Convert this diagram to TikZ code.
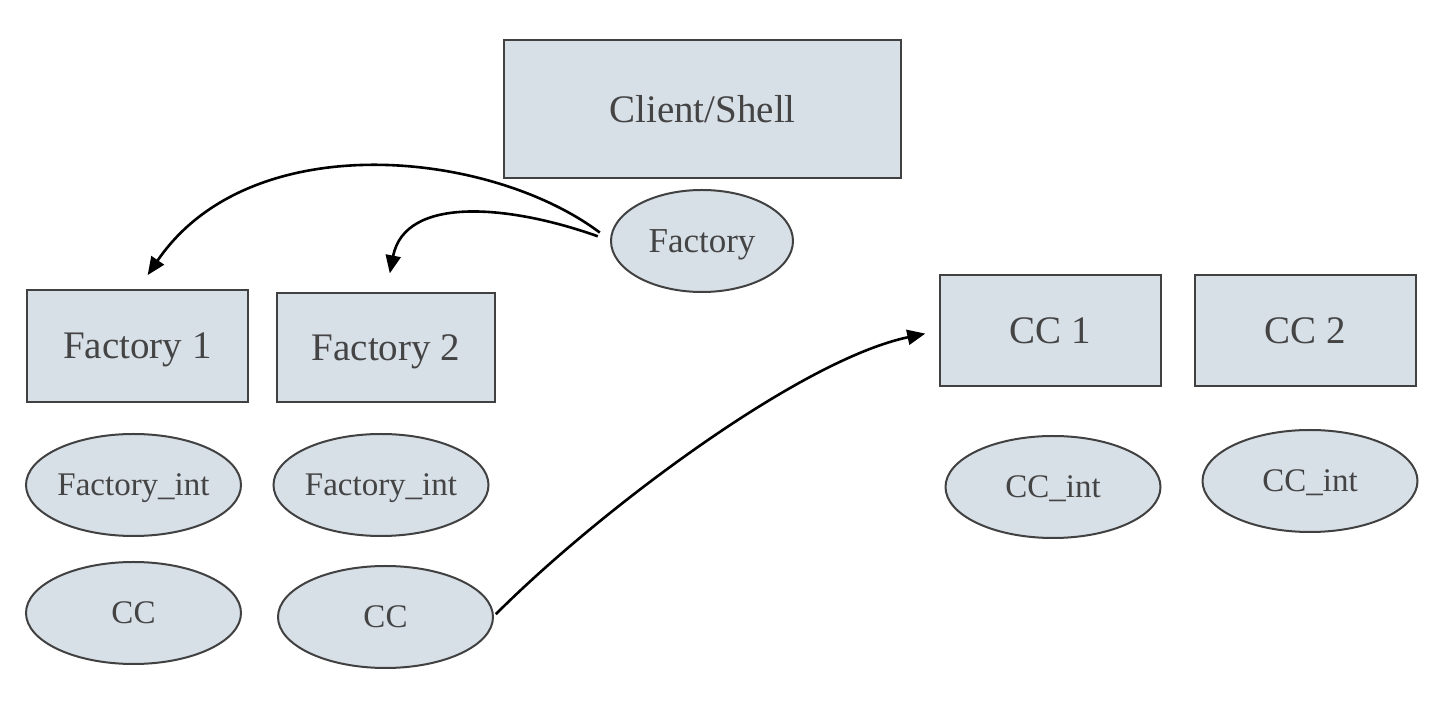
\documentclass[tikz,border=0pt]{standalone}
\usepackage{fontspec}
\setmainfont{Liberation Serif}
\usetikzlibrary{shapes.geometric,arrows.meta}
\definecolor{boxfill}{HTML}{D7DFE7}
\definecolor{boxline}{HTML}{414141}
\definecolor{txtgray}{HTML}{444444}

\begin{document}
\begin{tikzpicture}[x=0.5pt,y=0.5pt,yscale=-1,xscale=1,
  box/.style={draw=boxline,fill=boxfill,line width=1pt,inner sep=0pt,outer sep=0pt,text=txtgray,text depth=0pt,font=\fontsize{19.5}{23}\selectfont},
  oval/.style={ellipse,draw=boxline,fill=boxfill,line width=1pt,inner sep=0pt,inner xsep=-4pt,outer sep=0pt,text=txtgray,text depth=0pt,minimum width=107.5pt,minimum height=51pt,font=\fontsize{16.5}{20}\selectfont},
  arr/.style={line width=1.3pt,-{Triangle[length=9pt,width=7.5pt]}}]
%set diagram left start at 0, and has height of 704
\useasboundingbox (0,0) rectangle (1446,704);

% Rectangles
\node[box,minimum width=198.5pt,minimum height=69pt] (shell) at (702.5,109) {Client/Shell};
\node[box,minimum width=110.5pt,minimum height=56pt] (fa1) at (137.5,346) {Factory 1};
\node[box,minimum width=109pt,minimum height=54.5pt] (fa2) at (386,347.5) {Factory 2};
\node[box,minimum width=110.5pt,minimum height=55.5pt] (cc1) at (1050.5,330.5) {CC 1};
\node[box,minimum width=110.5pt,minimum height=55.5pt] (cc2) at (1305.5,330.5) {CC 2};

% Ellipses
\node[oval,minimum width=91pt,font=\fontsize{17.5}{20}\selectfont] (fac) at (702,241) {Factory};
\node[oval] (fint1) at (133.5,485) {Factory\_int};
\node[oval] (fint2) at (381,485) {Factory\_int};
\node[oval] (fcc1) at (133.5,613) {CC};
\node[oval] (fcc2) at (385.5,617) {CC};
\node[oval] (ccint1) at (1053,487) {CC\_int};
\node[oval] (ccint2) at (1310,481) {CC\_int};

% Curve Lines
\draw[arr,shorten <=7pt,shorten >=9pt] (fac.west) .. controls (490,150) and (250,125) .. (fa1.north);
\draw[arr,shorten <=7pt,shorten >=10pt] (fac.west) .. controls (510,205) and (405,195) .. (fa2.north);
\draw[arr,shorten <=2pt,shorten >=7.5pt] (fcc2.east) .. controls (600,510) and (800,360) .. (cc1.west);

\end{tikzpicture}
\end{document}
